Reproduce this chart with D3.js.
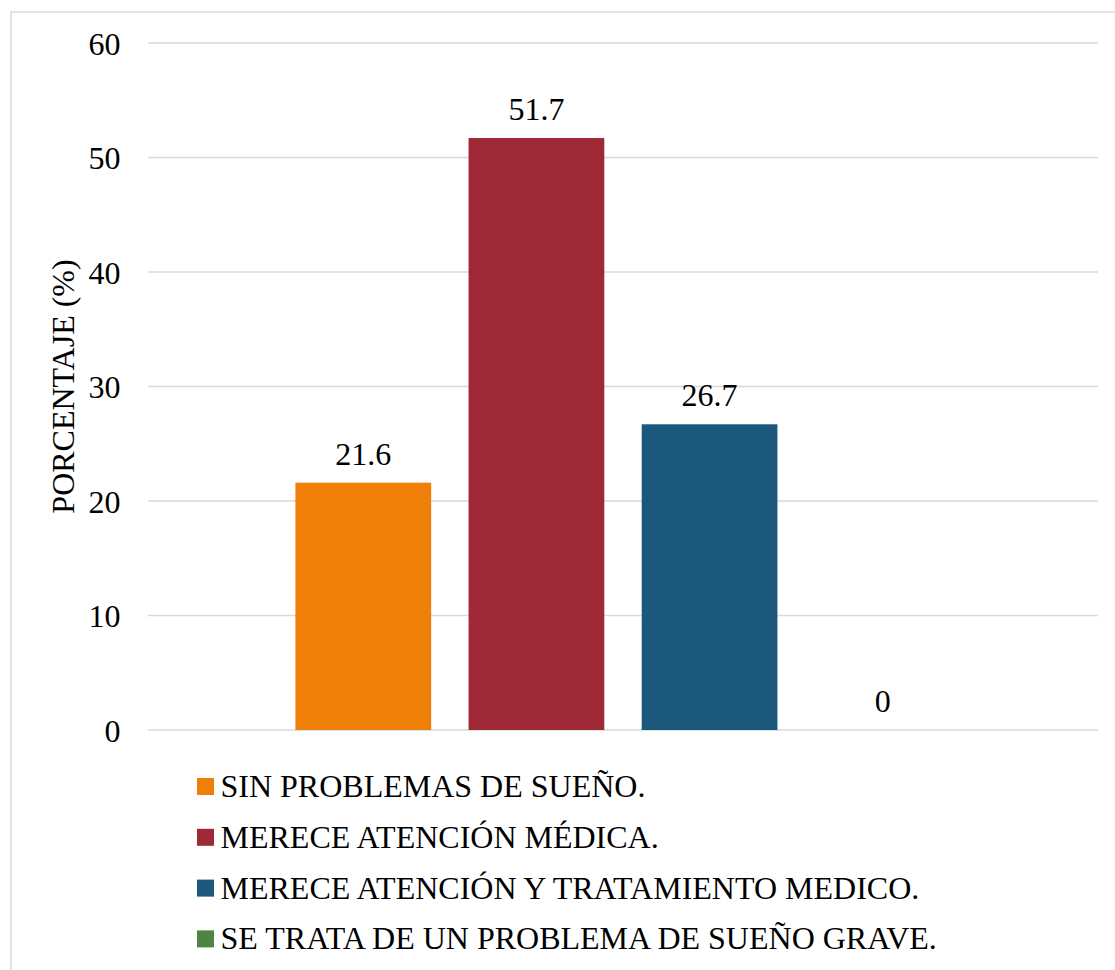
<!DOCTYPE html>
<html>
<head>
<meta charset="utf-8">
<script src="https://cdn.jsdelivr.net/npm/d3@7"></script>
<style>
  html, body { margin: 0; padding: 0; background: #fff; }
  svg { display: block; }
</style>
</head>
<body>
<svg id="chart" width="1115" height="970"></svg>
<script>
// Sleep-quality categories and their percentages
const categories = ["Total"];
const series = [
  "SIN PROBLEMAS DE SUEÑO.",
  "MERECE ATENCIÓN MÉDICA.",
  "MERECE ATENCIÓN Y TRATAMIENTO MEDICO.",
  "SE TRATA DE UN PROBLEMA DE SUEÑO GRAVE."
];
const values = [21.6, 51.7, 26.7, 0];
const colors = ["#F07F09", "#9F2936", "#1B587C", "#4E8542"];
const yTicks = [0, 10, 20, 30, 40, 50, 60];
const yTitle = "PORCENTAJE (%)";

const FONT = "Liberation Serif";
const FS = "32px";
const svg = d3.select("#chart");

// Outer frame (right and bottom edges run off the canvas)
svg.append("rect")
  .attr("x", 11).attr("y", 12)
  .attr("width", 1130).attr("height", 990)
  .attr("fill", "#fff")
  .attr("stroke", "#d9d9d9")
  .attr("stroke-width", 1.5);

const plot = { left: 148, right: 1098, top: 43, bottom: 730 };

const y = d3.scaleLinear().domain([0, 60]).range([plot.bottom, plot.top]);

const x0 = d3.scaleBand().domain(categories)
  .range([plot.left, plot.right])
  .paddingInner(0).paddingOuter(0.225);

const x1 = d3.scaleBand().domain(series)
  .range([0, x0.bandwidth()])
  .paddingInner(0.216).paddingOuter(0);

// Horizontal gridlines
svg.append("g")
  .selectAll("line")
  .data(yTicks)
  .join("line")
  .attr("x1", plot.left).attr("x2", plot.right)
  .attr("y1", d => y(d)).attr("y2", d => y(d))
  .attr("stroke", "#d9d9d9")
  .attr("stroke-width", 1.5);

// Y axis labels
const yAxis = d3.axisLeft(y).tickValues(yTicks).tickSize(0).tickPadding(0);
const yg = svg.append("g")
  .attr("transform", `translate(${plot.left - 27.5},0)`)
  .call(yAxis)
  .attr("font-family", FONT)
  .attr("font-size", 32);
yg.select(".domain").remove();
yg.selectAll("text")
  .style("font-family", FONT)
  .style("font-size", FS)
  .attr("dy", "0.35em")
  .attr("fill", "#000");

// Axis title
svg.append("text")
  .attr("transform", `translate(73.5,${(plot.top + plot.bottom) / 2}) rotate(-90)`)
  .attr("text-anchor", "middle")
  .style("font-family", FONT)
  .style("font-size", FS)
  .attr("fill", "#000")
  .text(yTitle);

// Bars
const g = svg.append("g").attr("transform", `translate(${x0(categories[0])},0)`);
const rows = series.map((s, i) => ({ name: s, value: values[i], color: colors[i] }));

g.selectAll("rect")
  .data(rows)
  .join("rect")
  .attr("x", d => x1(d.name))
  .attr("width", x1.bandwidth())
  .attr("y", d => y(d.value))
  .attr("height", d => y(0) - y(d.value))
  .attr("fill", d => d.color);

// Value labels
g.selectAll("text.val")
  .data(rows)
  .join("text")
  .attr("class", "val")
  .attr("x", d => x1(d.name) + x1.bandwidth() / 2)
  .attr("y", d => y(d.value) - 18)
  .attr("text-anchor", "middle")
  .style("font-family", FONT)
  .style("font-size", FS)
  .attr("fill", "#000")
  .text(d => d3.format("")(d.value));

// Legend
const legend = svg.append("g").attr("transform", "translate(197,0)");
const lg = legend.selectAll("g")
  .data(rows)
  .join("g")
  .attr("transform", (d, i) => `translate(0,${797 + i * 50.8})`);
lg.append("rect")
  .attr("x", 0).attr("y", -19)
  .attr("width", 17).attr("height", 17)
  .attr("fill", d => d.color);
lg.append("text")
  .attr("x", 23.5).attr("y", 0)
  .style("font-family", FONT)
  .style("font-size", FS)
  .attr("fill", "#000")
  .text(d => d.name);
</script>
</body>
</html>
